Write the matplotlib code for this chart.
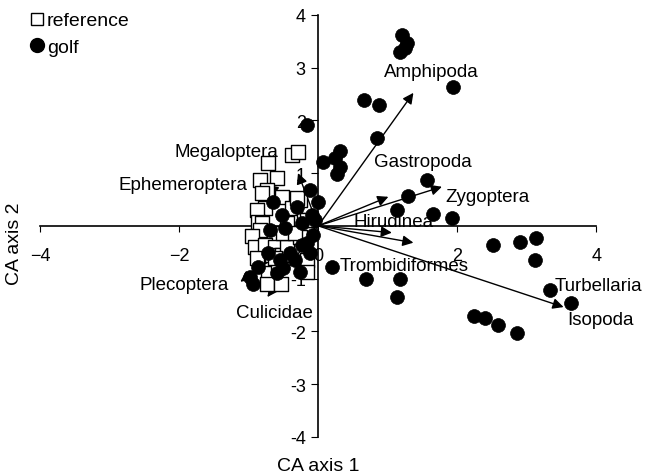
import matplotlib
matplotlib.use("Agg")
import matplotlib.pyplot as plt
from matplotlib.lines import Line2D

plt.rcParams['font.family'] = ['Liberation Sans', 'DejaVu Sans']

# site scores, reference sites (open squares)
ref_x = [-0.37, -0.29, -0.72, -0.83, -0.59, -0.73, -0.81, -0.76, -0.26, -0.52,
         -0.88, -0.86, -0.37, -0.81, -0.83, -0.95, -0.91, -0.76, -0.62, -0.88,
         -0.66, -0.52, -0.45, -0.16, -0.16, -0.72, -0.58, -0.73, -0.53, -0.26,
         -0.20, -0.45, -0.30, -0.50, -0.33, -0.16, -0.62]
ref_y = [1.35, 1.40, 1.19, 0.87, 0.91, 0.68, 0.63, 0.34, 0.49, 0.55,
         0.30, 0.08, 0.34, 0.06, -0.08, -0.19, -0.40, -0.36, -0.40, -0.61,
         -0.55, -0.55, -0.40, -0.64, -0.87, -0.89, -0.74, -1.10, -1.10, -0.21,
         0.11, 0.06, 0.53, -0.13, -0.13, 0.11, -0.61]

# site scores, golf course sites (filled circles)
golf_x = [1.21, 1.28, 1.18, 1.25, 1.94, 0.66, 0.88, 0.85, -0.16, 0.32,
          0.24, 0.07, 0.32, 0.27, 1.57, 1.29, 1.14, 1.65, 1.93, 2.52,
          2.91, 3.14, 3.12, 3.34, 3.63, 2.24, 2.40, 2.58, 2.86, 0.20,
          0.69, 1.18, 1.14,
          -0.12, 0.00, -0.65, -0.30, -0.52, -0.09, -0.47, -0.23, -0.07, -0.23,
          -0.40, -0.55, -0.72, -0.86, -0.98, -0.94, -0.50, -0.33, -0.16, -0.04,
          -0.59, -0.26, -0.69, -0.12]
golf_y = [3.62, 3.47, 3.30, 3.37, 2.64, 2.39, 2.29, 1.67, 1.91, 1.42,
          1.29, 1.21, 1.12, 0.99, 0.87, 0.57, 0.30, 0.23, 0.15, -0.36,
          -0.30, -0.23, -0.64, -1.21, -1.46, -1.71, -1.74, -1.88, -2.03, -0.78,
          -1.00, -1.00, -1.35,
          0.68, 0.45, 0.45, 0.36, 0.21, 0.21, -0.04, 0.06, -0.17, -0.36,
          -0.51, -0.64, -0.51, -0.78, -0.97, -1.10, -0.80, -0.64, -0.32, 0.11,
          -0.89, -0.87, -0.08, -0.51]

# taxa vectors
taxa = ['Amphipoda', 'Gastropoda', 'Zygoptera', 'Hirudinea', 'Trombidiformes',
        'Turbellaria', 'Isopoda', 'Megaloptera', 'Ephemeroptera', 'Plecoptera',
        'Culicidae']
vec_x = [1.37, 1.01, 1.78, 1.06, 1.37, 4.01, 3.53, -0.29, -0.73, -1.12, -0.73]
vec_y = [2.52, 0.55, 0.74, -0.13, -0.32, -0.91, -1.54, 1.00, 0.78, -1.06, -1.35]
lab_x = [1.63, 1.50, 2.44, 1.09, 1.24, 4.03, 4.06, -1.32, -1.94, -1.93, -0.63]
lab_y = [2.92, 1.21, 0.55, 0.08, -0.76, -1.14, -1.78, 1.40, 0.78, -1.12, -1.65]

fig = plt.figure(figsize=(6.46, 4.77), dpi=100)
ax = fig.add_axes([0.062, 0.082, 0.861, 0.885])

ax.set_xlim(-4, 4)
ax.set_ylim(-4, 4)
for s in ['top', 'right']:
    ax.spines[s].set_visible(False)
ax.spines['left'].set_position(('data', 0))
ax.spines['bottom'].set_position(('data', 0))
ax.spines['left'].set_linewidth(1.2)
ax.spines['bottom'].set_linewidth(1.2)
ax.set_xticks([-4, -2, 0, 2, 4])
ax.set_yticks([-4, -3, -2, -1, 0, 1, 2, 3, 4])
ax.set_yticklabels(['-4', '-3', '-2', '-1', '', '1', '2', '3', '4'])
ax.tick_params(axis='x', direction='out', length=4, pad=11, labelsize=13)
ax.tick_params(axis='y', direction='out', length=5, pad=4, labelsize=13)

for i in range(len(taxa)):
    ax.annotate('', xy=(vec_x[i], vec_y[i]), xytext=(0, 0),
                arrowprops=dict(arrowstyle='-|>', color='black', lw=1.0,
                                mutation_scale=16, shrinkA=0, shrinkB=0),
                zorder=2)
    ax.text(lab_x[i], lab_y[i], taxa[i], ha='center', va='center',
            fontsize=13.5, zorder=4)

ax.scatter(ref_x, ref_y, marker='s', s=110, facecolor='white',
           edgecolor='black', linewidth=1.0, zorder=3)
ax.scatter(golf_x, golf_y, marker='o', s=100, facecolor='black',
           edgecolor='black', linewidth=0.5, zorder=3)

handles = [Line2D([], [], marker='s', ls='', markersize=9, markerfacecolor='white',
                  markeredgecolor='black'),
           Line2D([], [], marker='o', ls='', markersize=10, markerfacecolor='black',
                  markeredgecolor='black')]
fig.legend(handles, ['reference', 'golf'], loc='upper left',
           bbox_to_anchor=(0.015, 1.01), frameon=False, fontsize=14,
           handletextpad=0.0, handlelength=1.0, labelspacing=0.45)

fig.text(0.022, 0.49, 'CA axis 2', rotation=90, ha='center', va='center',
         fontsize=14)
fig.text(0.492, 0.022, 'CA axis 1', ha='center', va='center', fontsize=14)

fig.savefig('out.png', dpi=100)
